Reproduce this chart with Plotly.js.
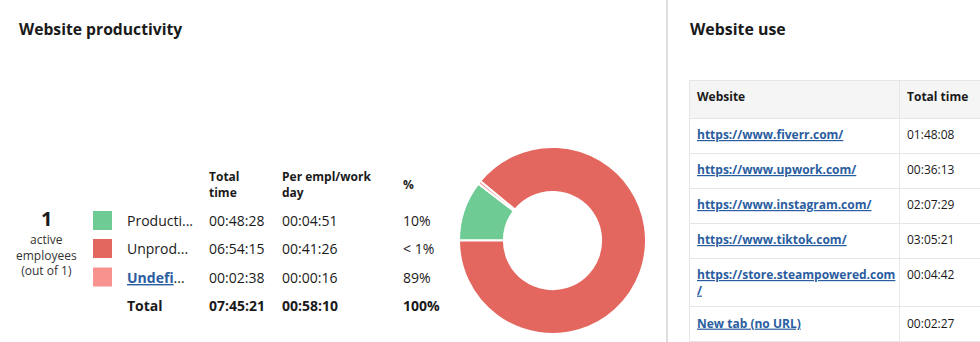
<!DOCTYPE html>
<html>
<head>
<meta charset="utf-8">
<script src="https://cdn.plot.ly/plotly-3.0.1.min.js"></script>
<style>
html,body{margin:0;padding:0;overflow:hidden;background:#fff;width:980px;height:342px;}
#chart{width:1060px;height:342px;}
</style>
</head>
<body>
<div id="chart"></div>
<script>
// ---- data ----
var categories = ['Producti...', 'Unprod...', 'Undefi...'];
var totalTime = ['00:48:28', '06:54:15', '00:02:38'];
var perDay = ['00:04:51', '00:41:26', '00:00:16'];
var pctLabels = ['10%', '< 1%', '89%'];
var seconds = [2908, 24855, 158];
var catColors = ['#6dcb93', '#e4675f', '#f7928e'];
var totalRow = ['Total', '07:45:21', '00:58:10', '100%'];
var headers = ['Total<br>time', 'Per empl/work<br>day', '%'];
var activeEmployees = '1';
var employeeNote = ['active', 'employees', '(out of 1)'];
var pieOrder = [0, 2, 1];

var sites = ['https://www.fiverr.com/', 'https://www.upwork.com/', 'https://www.instagram.com/',
  'https://www.tiktok.com/', 'https://store.steampowered.com<br>/', 'New tab (no URL)'];
var siteLinks = ['https://www.fiverr.com/', 'https://www.upwork.com/', 'https://www.instagram.com/',
  'https://www.tiktok.com/', 'https://store.steampowered.com/', 'about:blank'];
var siteTimes = ['01:48:08', '00:36:13', '02:07:29', '03:05:21', '00:04:42', '00:02:27'];
var tableHeaders = ['Website', 'Total time'];

// ---- layout helpers ----
var W = 1060, H = 342;
function px(x) { return x / W; }
function py(y) { return 1 - y / H; }
var FONT = 'Open Sans, Noto Sans, sans-serif';
var dark = '#1a1a1a';
var linkBlue = '#2a5d9f';

var annotations = [];
var shapes = [];
function ann(x, y, text, size, opts) {
  opts = opts || {};
  annotations.push({
    xref: 'paper', yref: 'paper', x: px(x), y: py(y), text: text,
    showarrow: false, xanchor: opts.xanchor || 'left', yanchor: 'middle',
    align: opts.align || 'left',
    font: {family: FONT, size: size, color: opts.color || dark, weight: opts.weight || 400}
  });
}

// titles
ann(17, 29, 'Website productivity', 15.7, {weight: 700});
ann(688, 29, 'Website use', 15.9, {weight: 700});

// employees block
ann(46, 218, activeEmployees, 20, {xanchor: 'center', align: 'center', weight: 700});
ann(46, 255, employeeNote.join('<br>'), 12, {xanchor: 'center', align: 'center', color: '#333'});

// header
var colX = [207, 280, 401];
headers.forEach(function (h, i) {
  ann(colX[i], 184, h, 12, {weight: 700});
});

// rows
var rowY = [220.5, 248.5, 277];
categories.forEach(function (c, i) {
  shapes.push({type: 'rect', xref: 'paper', yref: 'paper',
    x0: px(93), x1: px(112), y0: py(rowY[i] - 9.5), y1: py(rowY[i] + 9.5),
    fillcolor: catColors[i], line: {width: 0}});
  var label = c;
  if (i === 2) {
    var base = c.replace('...', '');
    label = '<span style="color:' + linkBlue + ';font-weight:bold;text-decoration:underline">' + base + '</span>...';
  }
  ann(125, rowY[i], label, 14);
  ann(colX[0], rowY[i], totalTime[i], 14);
  ann(colX[1], rowY[i], perDay[i], 14);
  ann(colX[2], rowY[i], pctLabels[i], 14);
});
var totX = [125, colX[0], colX[1], colX[2]];
totalRow.forEach(function (t, i) {
  ann(totX[i], 305, t, 14, {weight: 700});
});

// divider
shapes.push({type: 'line', xref: 'paper', yref: 'paper', x0: px(667), x1: px(667), y0: 0, y1: 1,
  line: {color: '#dedede', width: 2}});

var pie = {
  type: 'pie',
  labels: pieOrder.map(function (i) { return categories[i]; }),
  values: pieOrder.map(function (i) { return seconds[i]; }),
  marker: {colors: pieOrder.map(function (i) { return catColors[i]; }), line: {color: '#ffffff', width: 2}},
  sort: false, direction: 'clockwise', rotation: 270,
  hole: 0.52, textinfo: 'none', hoverinfo: 'label+percent',
  domain: {x: [px(459), px(646)], y: [py(334), py(147)]},
  showlegend: false
};

var siteCells = sites.map(function (s, i) {
  return '<b><a href="' + siteLinks[i] + '"style="color:' + linkBlue + ';text-decoration:underline">' + s + '</a></b>';
});
// same markup path as the link cells so both columns sit on the same baseline
var timeCells = siteTimes.map(function (t) {
  return '<a href="#"style="color:' + dark + ';text-decoration:none">' + t + '</a>';
});

var table = {
  type: 'table',
  domain: {x: [px(689), 1], y: [0, py(80)]},
  columnwidth: [210, 161],
  header: {
    values: tableHeaders.map(function (h) { return '<b>' + h + '</b>'; }),
    align: 'left', height: 38,
    fill: {color: '#f5f5f5'}, line: {color: '#e6e6e6', width: 1},
    font: {family: FONT, size: 12, color: dark}
  },
  cells: {
    values: [siteCells, timeCells],
    align: 'left', height: 35,
    fill: {color: '#ffffff'}, line: {color: '#e6e6e6', width: 1},
    font: {family: FONT, size: 12, color: dark}
  }
};

var layout = {
  width: W, height: H,
  margin: {l: 0, r: 0, t: 0, b: 0},
  paper_bgcolor: '#ffffff', plot_bgcolor: '#ffffff',
  annotations: annotations, shapes: shapes,
  font: {family: FONT}
};

Plotly.newPlot('chart', [pie, table], layout, {displayModeBar: false, staticPlot: true});
</script>
</body>
</html>
